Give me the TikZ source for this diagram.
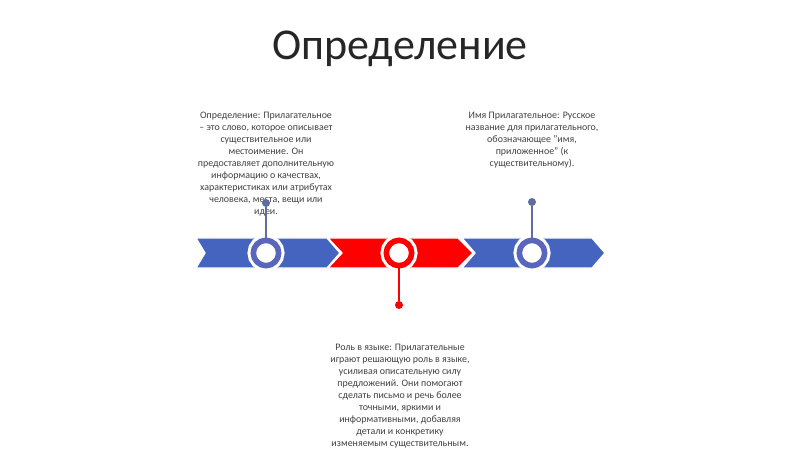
\documentclass[tikz,border=0pt]{standalone}
\usepackage{fontspec}
\setmainfont{Carlito}
\usetikzlibrary{positioning}
\definecolor{bandblue}{HTML}{4464C0}
\definecolor{ringblue}{HTML}{5A66BE}
\definecolor{bandred}{HTML}{FF0000}
\definecolor{stemgray}{HTML}{5E6C9E}
\definecolor{textgray}{HTML}{404040}
\begin{document}
\begin{tikzpicture}
			[x=0.75pt,y=-0.75pt,
			band/.style={fill=#1,draw=white,line width=1pt},
			ring/.style={circle,fill=white,draw=#1,line width=4.2pt,
				minimum size=19pt,inner sep=0pt,
				preaction={draw=white,line width=8.8pt}},
			dot/.style={circle,fill=#1,inner sep=0pt,minimum size=6pt},
			stem/.style={draw=#1,line width=1.2pt},
			blurb/.style={align=center,text=textgray,
				font=\fontsize{7.45}{9}\selectfont}]
			\useasboundingbox (0,0) rectangle (800,449);
			\node[text=black!85,font=\fontsize{33}{40}\selectfont] (title) at (400,49) {Определение};
			\fill[band=bandblue] (196,238) -- (327,238) -- (340,253) -- (327,268) -- (196,268) -- (205,253) -- cycle;
			\fill[band=bandred] (328,238) -- (458,238) -- (473,253) -- (458,268) -- (328,268) -- (342,253) -- cycle;
			\fill[band=bandblue] (462,238) -- (592,238) -- (605,253) -- (592,268) -- (462,268) -- (475,253) -- cycle;
			\node[blurb] (deftext) at (266,164) {Определение: Прилагательное\\
				– это слово, которое описывает\\
				существительное или\\
				местоимение. Он\\
				предоставляет дополнительную\\
				информацию о качествах,\\
				характеристиках или атрибутах\\
				человека, места, вещи или\\
				идеи.};
			\node[blurb] (nametext) at (532,140) {Имя Прилагательное: Русское\\
				название для прилагательного,\\
				обозначающее "имя,\\
				приложенное" (к\\
				существительному).};
			\node[blurb] (roletext) at (400,396) {Роль в языке: Прилагательные\\
				играют решающую роль в языке,\\
				усиливая описательную силу\\
				предложений. Они помогают\\
				сделать письмо и речь более\\
				точными, яркими и\\
				информативными, добавляя\\
				детали и конкретику\\
				изменяемым существительным.};
			\node[dot=stemgray] (defdot) at (266,203) {};
			\node[dot=stemgray] (namedot) at (532,202) {};
			\node[dot=bandred] (roledot) at (399,305) {};
			\node[ring=ringblue] (def) at (266,253) {};
			\node[ring=bandred] (role) at (399,253) {};
			\node[ring=ringblue] (name) at (532,253) {};
			\draw[stem=stemgray] (def.north) -- (defdot);
			\draw[stem=stemgray] (name.north) -- (namedot);
			\draw[stem=bandred] (role.south) -- (roledot);
		\end{tikzpicture}
\end{document}
